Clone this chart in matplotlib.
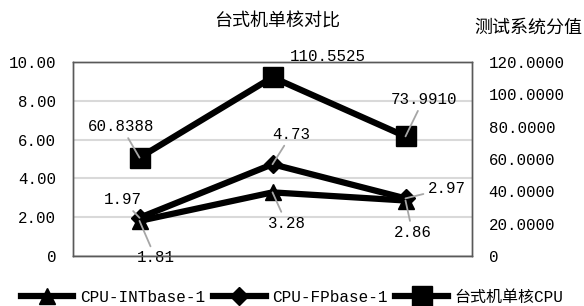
import matplotlib
matplotlib.use('Agg')
import matplotlib.pyplot as plt
from matplotlib.ticker import FuncFormatter

plt.rcParams['font.family'] = ['Liberation Mono', 'Noto Sans CJK SC']

# data
cats = ['a', 'b', 'c']
int_vals = [1.81, 3.28, 2.86]
fp_vals = [1.97, 4.73, 2.97]
cpu_vals = [60.8388, 110.5525, 73.9910]
int_labels = ['1.81', '3.28', '2.86']
fp_labels = ['1.97', '4.73', '2.97']
cpu_labels = ['60.8388', '110.5525', '73.9910']
names = ['CPU-INTbase-1', 'CPU-FPbase-1', '台式机单核CPU']

fig = plt.figure(figsize=(5.84, 3.06), dpi=100)
ax = fig.add_axes([73/584, 1-256/306, 399/584, 194/306])
ax2 = ax.twinx()

x = list(range(len(cats)))
l1, = ax.plot(x, int_vals, color='black', lw=4.5, marker='^', ms=12, zorder=3)
l2, = ax.plot(x, fp_vals, color='black', lw=4.5, marker='D', ms=9, zorder=4)
l3, = ax2.plot(x, cpu_vals, color='black', lw=4.5, marker='s', ms=14, zorder=3)

ax.set_xlim(-0.5, 2.5)
ax.set_ylim(0, 10)
ax.set_yticks([0, 2, 4, 6, 8, 10])
ax2.set_ylim(0, 120)
ax2.set_yticks([0, 20, 40, 60, 80, 100, 120])
ax.yaxis.set_major_formatter(FuncFormatter(lambda v, p: '0' if v == 0 else '%.2f' % v))
ax2.yaxis.set_major_formatter(FuncFormatter(lambda v, p: '0' if v == 0 else '%.4f' % v))
ax.set_xticks([])
ax.grid(axis='y', color='#d9d9d9', lw=1.5)
ax.set_axisbelow(True)
ax.tick_params(axis='y', length=0, pad=12, labelsize=11.3)
ax2.tick_params(axis='y', length=0, pad=12, labelsize=11.3)
for a in (ax, ax2):
    for s in a.spines.values():
        s.set_color('#595959')
        s.set_linewidth(1)

lead = dict(arrowstyle='-', color='#a6a6a6', lw=1.3, shrinkA=1, shrinkB=0)

def label(a, xi, yi, txt, dx, dy, line=True):
    a.annotate(txt, (xi, yi), xytext=(dx, dy), textcoords='offset pixels',
               ha='center', va='center', fontsize=11.3, zorder=6,
               arrowprops=lead if line else None)

int_off = [(16, -37), (14, -31), (7, -32)]
fp_off = [(-17, 18), (19, 30), (41, 10)]
cpu_off = [(-18, 31), (55, 21), (18, 37)]
for i in x:
    label(ax, i, int_vals[i], int_labels[i], *int_off[i])
    label(ax, i, fp_vals[i], fp_labels[i], *fp_off[i])
    label(ax2, i, cpu_vals[i], cpu_labels[i], *cpu_off[i], line=(i != 1))

fig.text(277/584, 1-22/306, '台式机单核对比', ha='center', va='center', fontsize=13)
fig.text(528/584, 1-28/306, '测试系统分值', ha='center', va='center', fontsize=13)

fig.legend([l1, l2, l3], names, loc='center', bbox_to_anchor=(292/584, 1-297/306),
           ncol=3, frameon=False, fontsize=11.5, handlelength=3.3,
           columnspacing=0.5, handletextpad=0.4, borderaxespad=0)

fig.savefig('out.png', dpi=100)
